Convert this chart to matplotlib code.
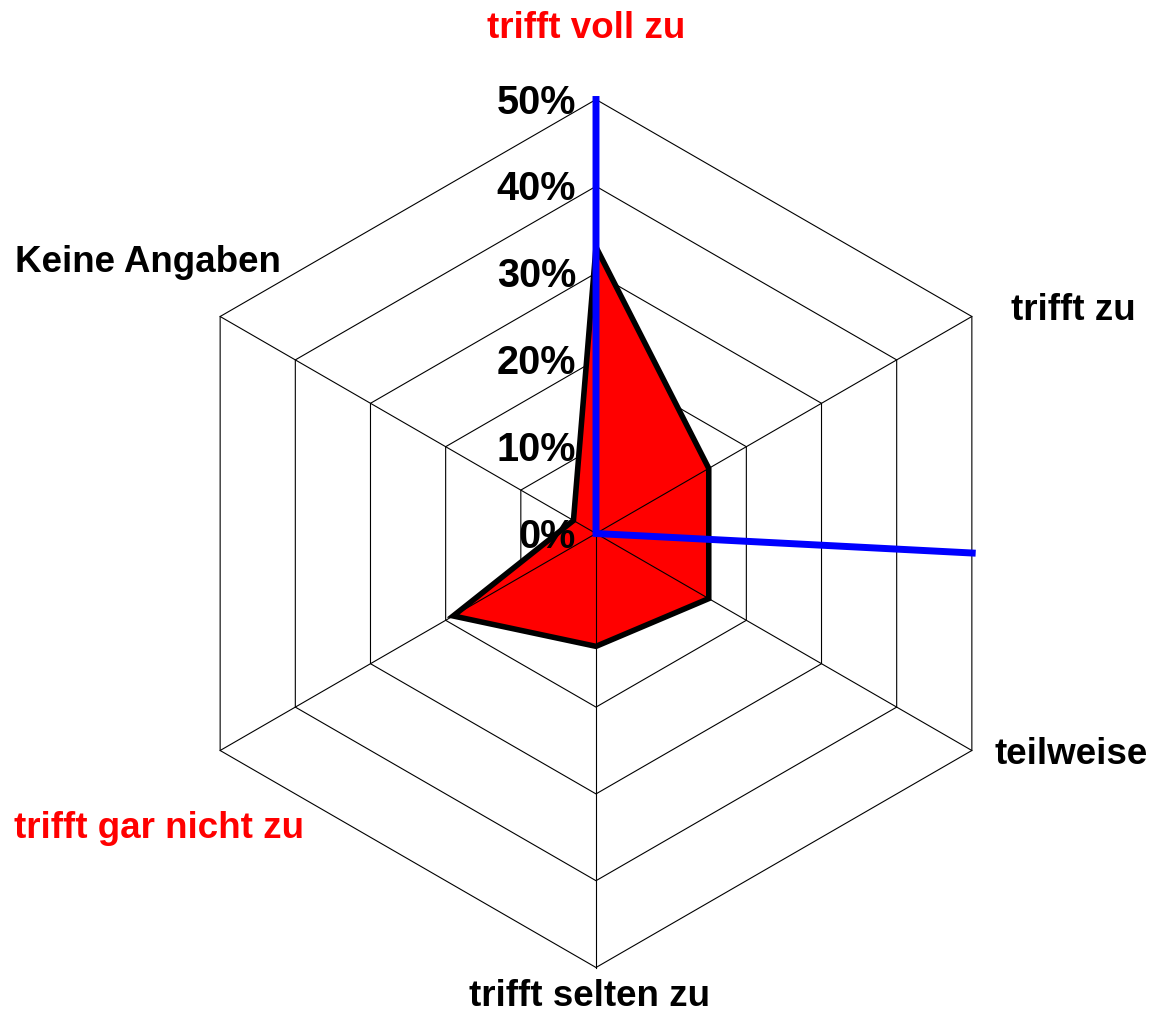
import numpy as np
import matplotlib.pyplot as plt

categories = ['trifft voll zu', 'trifft zu', 'teilweise', 'trifft selten zu',
              'trifft gar nicht zu', 'Keine Angaben']
angles_deg = [90, 30, -30, -90, -150, 150]
values = [33, 15, 15, 13, 19, 3]
label_colors = ['red', 'black', 'black', 'black', 'red', 'black']

# second series (blue line): (angle in degrees, percent)
blue_angles = [90, 0, -2.97]
blue_values = [50, 0, 43.4]

ring_levels = [0, 10, 20, 30, 40, 50]
ring_labels = ['0%', '10%', '20%', '30%', '40%', '50%']

W, H = 1150, 1014
cx, cy = 596, 533.5          # centre in pixels
scale = 434 / 50              # pixels per percent


def px(x, y):
    return (x - cx) / scale, (cy - y) / scale


fig = plt.figure(figsize=(W / 100, H / 100), dpi=100)
ax = fig.add_axes([0, 0, 1, 1])
ax.set_xlim(-cx / scale, (W - cx) / scale)
ax.set_ylim(-(H - cy) / scale, cy / scale)
ax.axis('off')

th = np.radians(angles_deg)
hx = np.cos(th)
hy = np.sin(th)

# hexagon grid
for r in ring_levels[1:]:
    ax.plot(np.append(hx, hx[0]) * r, np.append(hy, hy[0]) * r,
            color='black', lw=0.8, zorder=1)
for x, y in zip(hx, hy):
    ax.plot([0, x * 50], [0, y * 50], color='black', lw=0.8, zorder=1)

# data polygon, with the spokes up to each point visible on the fill
v = np.array(values)
ax.fill(hx * v, hy * v, facecolor='red', edgecolor='none', zorder=2)
for x, y, r in zip(hx, hy, v):
    ax.plot([0, x * r], [0, y * r], color='black', lw=0.8, zorder=3)
ax.fill(hx * v, hy * v, facecolor='none', edgecolor='black', lw=4.0,
        joinstyle='miter', zorder=3)

# blue line
bt = np.radians(blue_angles)
bv = np.array(blue_values)
ax.plot(np.cos(bt) * bv, np.sin(bt) * bv, color='blue', lw=5.0,
        solid_joinstyle='miter', zorder=4)

font = dict(family='Liberation Sans', weight='bold')

# ring labels
for r, lab in zip(ring_levels, ring_labels):
    x, y = px(576, cy - r * scale + 3)
    ax.text(x, y, lab, ha='right', va='center', fontsize=28.5, zorder=5, **font)

# category labels
label_pos = [(586, 28, 'center'), (1073, 310, 'center'), (1071, 755, 'center'),
             (590, 997, 'center'), (14, 828, 'left'), (15, 262, 'left')]
for cat, col, (lx, ly, ha) in zip(categories, label_colors, label_pos):
    x, y = px(lx, ly)
    ax.text(x, y, cat, ha=ha, va='center', color=col, fontsize=26.5, **font)

fig.savefig('out.png', dpi=100)
